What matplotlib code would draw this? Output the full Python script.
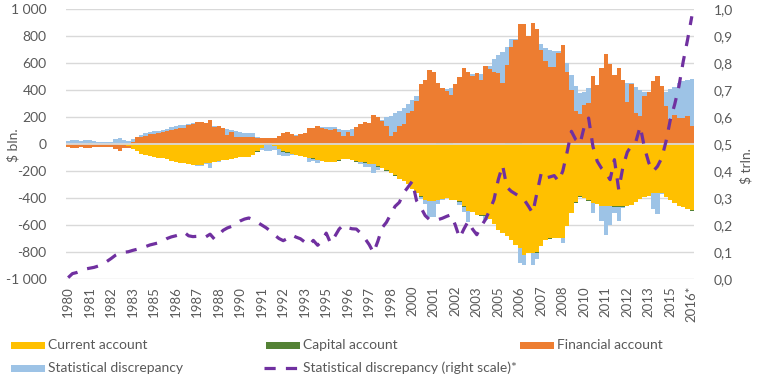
import numpy as np
import matplotlib
matplotlib.use('Agg')
import matplotlib.pyplot as plt
from matplotlib.patches import Rectangle
from matplotlib.lines import Line2D
from matplotlib.ticker import FuncFormatter

plt.rcParams['font.family'] = ['Lato', 'DejaVu Sans']

# quarterly data, 1980 Q1 .. 2016 Q2, $ bln (bars) and $ trln (line)
current_account = [
    2, 0, 0, 0, 0, 6, 2, 0, 0, 0, 0, -2, -5, -10, -15, -40,
    -54, -72, -84, -91, -99, -101, -101, -114, -124, -131, -138, -143, -148, -153, -158, -158,
    -141, -141, -133, -128, -116, -116, -111, -104, -96, -96, -96, -81, -54, -30, -3, -2,
    -15, -35, -54, -62, -72, -79, -86, -96, -101, -106, -116, -126, -133, -133, -133, -121,
    -111, -111, -116, -128, -133, -136, -148, -148, -165, -178, -195, -215, -232, -257, -272, -296,
    -330, -363, -388, -412, -420, -420, -412, -405, -402, -412, -412, -425, -462, -494, -504, -524,
    -529, -529, -553, -590, -635, -659, -684, -714, -746, -771, -820, -808, -808, -803, -753, -709,
    -699, -694, -694, -694, -605, -511, -432, -388, -398, -417, -437, -442, -457, -457, -457, -462,
    -462, -462, -457, -452, -427, -405, -393, -383, -363, -363, -363, -393, -412, -437, -457, -467,
    -482, -491]
capital_account = [
    0, 0, 0, 0, 0, 0, 0, 0, 0, 0, 0, 0, 0, 0, 0, 0,
    0, 0, 0, 0, 0, 0, 0, 0, 0, 0, 0, 0, 0, 0, 0, 0,
    0, 0, 0, 0, -3, -3, -3, -3, -3, -3, -3, -3, -3, -3, -8, -5,
    -3, -3, -3, -3, -3, -3, -3, -3, -3, -3, -3, -3, -3, -3, -3, -3,
    -3, -3, -3, -3, -3, -3, -3, -3, -3, -3, -3, -3, -3, -3, -3, -3,
    -3, -3, -3, -3, -3, -3, 4, 4, 4, 4, -3, -3, -3, -3, -3, -3,
    -3, -3, -3, -3, -3, -3, 4, 4, 4, 4, -3, -3, -3, -3, -3, -3,
    -3, -3, -3, -3, -3, -3, -3, -3, -3, -3, -3, -3, -3, -3, -3, -3,
    -3, -3, -3, -3, -3, -3, -3, -3, -3, -3, -3, -3, -3, -3, -3, -3,
    -3, -3]
financial_account = [
    -22, -32, -32, -22, -32, -28, -20, -20, -20, -20, -20, -38, -45, -20, -12, 17,
    49, 49, 62, 77, 72, 81, 89, 99, 106, 111, 119, 119, 143, 148, 161, 165,
    156, 175, 126, 136, 116, 69, 86, 49, 49, 49, 49, 54, 44, 47, 47, 47,
    47, 62, 84, 91, 74, 57, 72, 81, 121, 121, 136, 121, 109, 101, 114, 86,
    57, 86, 62, 128, 151, 165, 158, 217, 198, 173, 136, 62, 86, 136, 150, 230,
    247, 321, 447, 477, 551, 536, 447, 410, 388, 358, 447, 499, 566, 536, 506, 529,
    477, 580, 558, 536, 529, 454, 580, 714, 766, 884, 892, 803, 899, 855, 699, 618,
    573, 573, 677, 736, 536, 403, 247, 225, 291, 306, 506, 435, 566, 669, 595, 514,
    566, 477, 314, 447, 232, 210, 358, 388, 469, 506, 432, 284, 188, 217, 195, 195,
    210, 136]
stat_discrepancy = [
    22, 32, 32, 22, 32, 22, 18, 18, 18, 18, 18, 40, 42, 30, 20, 20,
    0, 20, 22, 12, 24, 15, 17, 12, 20, 20, 22, 22, 8, 4, -7, -7,
    -10, -34, 5, -8, 0, 45, 20, 50, 37, 35, 35, 30, 10, -15, -38, -42,
    -30, -46, -34, -26, -5, 12, 5, 4, -27, -20, -25, 5, 20, 27, 14, 28,
    49, 20, 52, -5, -13, -29, -20, -64, -25, 5, 64, 143, 144, 111, 119, 69,
    81, 35, -20, -27, -116, -116, -30, -8, 15, 50, 0, -22, -37, -79, 15, 0,
    44, -30, 22, 96, 133, 230, 131, 58, 7, -111, -74, 0, -88, -45, 44, 93,
    126, 119, 10, -39, 64, 111, 185, 153, 97, 111, -69, 5, -109, -212, -138, -49,
    -104, -10, 140, 5, 193, 193, 30, 0, -116, -151, -7, 104, 222, 205, 259, 274,
    267, 348]
stat_discrepancy_cum = [
    0.005, 0.020, 0.024, 0.030, 0.037, 0.040, 0.043, 0.048, 0.055, 0.065, 0.076, 0.088, 0.096, 0.099, 0.101, 0.106,
    0.110, 0.115, 0.120, 0.126, 0.130, 0.134, 0.140, 0.150, 0.156, 0.160, 0.165, 0.173, 0.160, 0.157, 0.158, 0.162,
    0.156, 0.166, 0.148, 0.162, 0.180, 0.189, 0.195, 0.205, 0.215, 0.222, 0.226, 0.220, 0.210, 0.200, 0.190, 0.178,
    0.163, 0.150, 0.142, 0.150, 0.163, 0.155, 0.149, 0.137, 0.125, 0.143, 0.125, 0.140, 0.170, 0.133, 0.158, 0.185,
    0.200, 0.190, 0.186, 0.185, 0.170, 0.150, 0.127, 0.097, 0.140, 0.190, 0.210, 0.240, 0.269, 0.284, 0.319, 0.340,
    0.362, 0.290, 0.265, 0.235, 0.220, 0.220, 0.220, 0.225, 0.232, 0.238, 0.200, 0.152, 0.185, 0.214, 0.185, 0.164,
    0.195, 0.220, 0.255, 0.294, 0.368, 0.421, 0.340, 0.325, 0.315, 0.305, 0.294, 0.270, 0.244, 0.320, 0.393, 0.374,
    0.378, 0.383, 0.362, 0.400, 0.470, 0.547, 0.516, 0.501, 0.565, 0.596, 0.491, 0.436, 0.410, 0.393, 0.368, 0.442,
    0.331, 0.417, 0.470, 0.495, 0.510, 0.565, 0.485, 0.430, 0.399, 0.417, 0.448, 0.510, 0.590, 0.646, 0.714, 0.806,
    0.886, 0.973]
tick_labels = ['1980', '1981', '1982', '1983', '1985', '1986', '1987', '1988', '1990', '1991',
               '1992', '1993', '1995', '1996', '1997', '1998', '2000', '2001', '2002', '2003',
               '2005', '2006', '2007', '2008', '2010', '2011', '2012', '2013', '2015', '2016*']
series_names = ['Current account', 'Capital account', 'Financial account', 'Statistical discrepancy']
line_name = 'Statistical discrepancy (right scale)*'
colors = ['#FFC000', '#548235', '#ED7D31', '#9DC3E6']
line_color = '#7030A0'
text_color = '#595959'

n = len(current_account)
quarters = np.arange(n)
W, H = 763, 382

fig = plt.figure(figsize=(W / 100, H / 100), dpi=100)
ax = fig.add_axes([66 / W, 103 / H, 628 / W, 270 / H])

# Excel-style stacking: positives and negatives stacked separately
pos = np.zeros(n)
neg = np.zeros(n)
for vals, c in zip([current_account, capital_account, financial_account, stat_discrepancy], colors):
    v = np.array(vals, dtype=float)
    bottom = np.where(v >= 0, pos, neg)
    ax.bar(quarters, v, bottom=bottom, width=1.0, color=c, linewidth=0, zorder=2)
    pos += np.clip(v, 0, None)
    neg += np.clip(v, None, 0)

ax.set_xlim(-0.5, n - 0.5)
ax.set_ylim(-1000, 1000)
ax.set_yticks(range(-1000, 1001, 200))
ax.yaxis.set_major_formatter(FuncFormatter(lambda v, p: f'{int(v):,}'.replace(',', ' ')))
ax.grid(axis='y', color='#d9d9d9', linewidth=1.0, zorder=0)
ax.set_axisbelow(True)
ax.axhline(0, color='#d9d9d9', linewidth=1.3, zorder=3)
ax.set_xticks(quarters[::5])
ax.set_xticklabels(tick_labels, rotation=90)
ax.tick_params(axis='x', length=0, pad=5, labelsize=9.5, colors=text_color)
ax.tick_params(axis='y', length=0, pad=14, labelsize=10, colors=text_color)
for s in ax.spines.values():
    s.set_visible(False)

ax2 = ax.twinx()
ax2.plot(quarters, stat_discrepancy_cum, color=line_color, linewidth=2.3, dashes=(3.5, 3.2), zorder=4)
ax2.set_ylim(0, 1.0)
ax2.set_yticks(np.arange(0, 1.01, 0.1))
ax2.yaxis.set_major_formatter(FuncFormatter(lambda v, p: f'{v:.1f}'.replace('.', ',')))
ax2.tick_params(axis='y', length=0, pad=14, labelsize=10, colors=text_color)
for s in ax2.spines.values():
    s.set_visible(False)

fig.text(13 / W, 1 - 145 / H, r'\$ bln.', rotation=90, ha='center', va='center',
         fontsize=10, color=text_color)
fig.text(746 / W, 1 - 166 / H, r'\$ trln.', rotation=90, ha='center', va='center',
         fontsize=10, color=text_color)

# legend below the chart
entries = [(11, 345, 0), (266, 345, 1), (520, 345, 2), (11, 368, 3)]
for x0, y0, k in entries:
    fig.patches.append(Rectangle((x0 / W, 1 - (y0 + 3.5) / H), 34 / W, 7 / H,
                                 transform=fig.transFigure, color=colors[k], linewidth=0))
    fig.text((x0 + 37) / W, 1 - y0 / H, series_names[k], ha='left', va='center',
             fontsize=10, color=text_color)
fig.lines.append(Line2D([264 / W, 298 / W], [1 - 368 / H, 1 - 368 / H], transform=fig.transFigure,
                        color=line_color, linewidth=2.3, dashes=(3.5, 3.2)))
fig.text(303 / W, 1 - 368 / H, line_name, ha='left', va='center', fontsize=10, color=text_color)

fig.savefig('out.png', dpi=100)
